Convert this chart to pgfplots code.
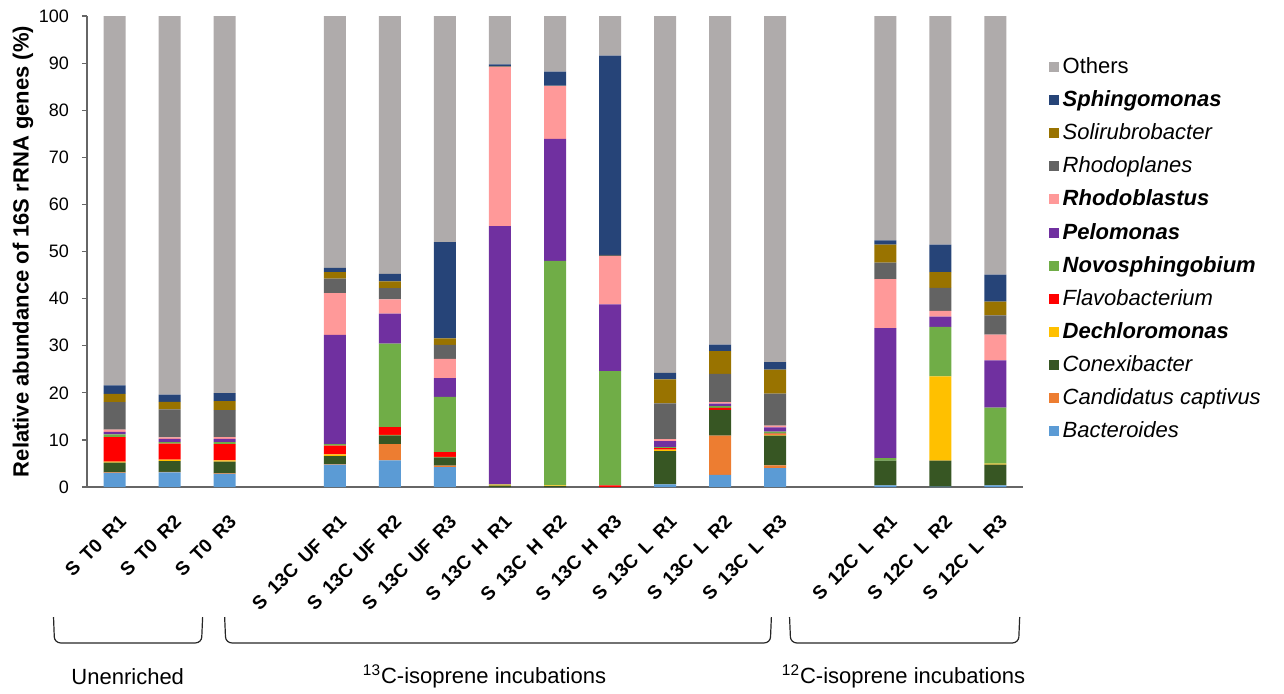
\documentclass[border=0pt]{standalone}
\usepackage{fontspec}
\setmainfont{Liberation Sans}
\newfontfamily\tickfont{Liberation Sans}[WordSpace=1.7]
\usepackage{pgfplots}
\usepackage{pgfplotstable}
\pgfplotsset{compat=1.18}
\definecolor{cOth}{HTML}{AFABAB}
\definecolor{cSph}{HTML}{264478}
\definecolor{cSol}{HTML}{997300}
\definecolor{cRpl}{HTML}{636363}
\definecolor{cRbl}{HTML}{FF9999}
\definecolor{cPel}{HTML}{7030A0}
\definecolor{cNov}{HTML}{70AD47}
\definecolor{cFla}{HTML}{FF0000}
\definecolor{cDec}{HTML}{FFC000}
\definecolor{cCon}{HTML}{375623}
\definecolor{cCan}{HTML}{ED7D31}
\definecolor{cBac}{HTML}{5B9BD5}
\pgfplotstableread{
x  Bac  Can  Con  Dec  Fla  Nov   Pel   Rbl   Rpl  Sol  Sph   Oth
0  3.00 0.10 2.10 0.20 5.20 0.60  0.50  0.50  5.80 1.80 1.80  78.40
1  3.10 0.10 2.30 0.30 3.40 0.35  0.65  0.35  5.95 1.60 1.50  80.40
2  2.80 0.10 2.50 0.25 3.45 0.45  0.65  0.40  5.70 1.95 1.70  80.05
4  4.74 0.10 1.74 0.35 1.84 0.35  23.20 8.85  3.05 1.40 0.90  53.48
5  5.66 3.47 1.84 0.10 1.67 17.70 6.40  3.00  2.40 1.40 1.60  54.76
6  4.25 0.28 1.77 0.10 1.03 11.70 4.00  4.10  2.95 1.40 20.40 48.02
7  0.00 0.00 0.30 0.20 0.00 0.05  54.85 33.80 0.10 0.05 0.40  10.25
8  0.00 0.00 0.20 0.15 0.00 47.65 25.90 11.20 0.10 0.00 3.00  11.80
9  0.00 0.00 0.00 0.00 0.35 24.25 14.20 10.20 0.30 0.00 42.30 8.40
10 0.57 0.00 7.07 0.28 0.35 0.20  1.27  0.43  7.60 5.10 1.35  75.78
11 2.60 8.30 5.50 0.00 0.43 0.35  0.50  0.35  6.00 4.80 1.40  69.77
12 4.03 0.57 6.30 0.20 0.23 0.42  0.92  0.35  6.80 5.10 1.60  73.48
14 0.35 0.00 5.25 0.00 0.00 0.55  27.60 10.40 3.50 3.80 0.90  47.65
15 0.10 0.00 5.50 17.90 0.00 10.50 2.20 1.20  4.90 3.30 5.85  48.55
16 0.35 0.00 4.40 0.20 0.00 11.90 10.05 5.45  4.10 2.90 5.75  54.90
}\data
\begin{document}
\begin{tikzpicture}
\useasboundingbox (0,0) rectangle (642pt,-346.5pt);
\begin{axis}[
  at={(43.5pt,-243.5pt)}, anchor=south west,
  scale only axis, width=468pt, height=235.5pt,
  ybar stacked, bar width=11pt,
  ymin=0, ymax=100, xmin=-0.5, xmax=16.5,
  clip=false,
  axis x line*=bottom, axis y line*=left,
  axis line style={-, draw=black!60, line width=0.6pt},
  ytick={0,10,...,100},
  tick align=outside,
  major tick length=2.5pt,
  ytick style={draw=black!60, line width=0.6pt},
  xtick style={draw=none},
  /pgf/number format/assume math mode=true,
  yticklabel style={font=\fontsize{9}{10}\selectfont, xshift=-3pt},
  xtick={0,1,2,4,5,6,7,8,9,10,11,12,14,15,16},
  xticklabels={S T0 R1,S T0 R2,S T0 R3,S 13C UF R1,S 13C UF R2,S 13C UF R3,S 13C H R1,S 13C H R2,S 13C H R3,S 13C L R1,S 13C L R2,S 13C L R3,S 12C L R1,S 12C L R2,S 12C L R3},
  xticklabel style={font=\tickfont\bfseries\fontsize{9.5}{11}\selectfont, xshift=4.25pt, yshift=-13.25pt, rotate=45, anchor=east, inner sep=0pt},
  ylabel={\textbf{Relative abundance of 16S rRNA genes (\%)}},
  ylabel style={font=\fontsize{11}{12}\selectfont, at={(axis description cs:-0.0684,0.5)}, anchor=center},
  legend image code/.code={\fill[#1] (0pt,-2.5pt) rectangle (5pt,2.5pt);},
  reverse legend,
  legend cell align=left,
  legend style={draw=none, fill=none, at={(axis description cs:1.027,0.505)}, anchor=west,
    font=\fontsize{11}{12}\selectfont, row sep=3.1pt, inner sep=0pt},
]
\addplot[fill=cBac, draw=none] table[x=x,y=Bac]{\data};
\addplot[fill=cCan, draw=none] table[x=x,y=Can]{\data};
\addplot[fill=cCon, draw=none] table[x=x,y=Con]{\data};
\addplot[fill=cDec, draw=none] table[x=x,y=Dec]{\data};
\addplot[fill=cFla, draw=none] table[x=x,y=Fla]{\data};
\addplot[fill=cNov, draw=none] table[x=x,y=Nov]{\data};
\addplot[fill=cPel, draw=none] table[x=x,y=Pel]{\data};
\addplot[fill=cRbl, draw=none] table[x=x,y=Rbl]{\data};
\addplot[fill=cRpl, draw=none] table[x=x,y=Rpl]{\data};
\addplot[fill=cSol, draw=none] table[x=x,y=Sol]{\data};
\addplot[fill=cSph, draw=none] table[x=x,y=Sph]{\data};
\addplot[fill=cOth, draw=none] table[x=x,y=Oth]{\data};
\legend{\textit{Bacteroides},\textit{Candidatus captivus},\textit{Conexibacter},\textbf{\textit{Dechloromonas}},\textit{Flavobacterium},\textbf{\textit{Novosphingobium}},\textbf{\textit{Pelomonas}},\textbf{\textit{Rhodoblastus}},\textit{Rhodoplanes},\textit{Solirubrobacter},\textbf{\textit{Sphingomonas}},Others}
% group brackets
\draw[black!85, line width=0.6pt, rounded corners=3pt] (axis cs:-1.108,-27.6) -- (axis cs:-1.09,-33.1) -- (axis cs:1.58,-33.1) -- (axis cs:1.6,-27.6);
\draw[black!85, line width=0.6pt, rounded corners=3pt] (axis cs:2.0,-27.6) -- (axis cs:2.02,-33.1) -- (axis cs:11.91,-33.1) -- (axis cs:11.93,-27.6);
\draw[black!85, line width=0.6pt, rounded corners=3pt] (axis cs:12.26,-27.6) -- (axis cs:12.28,-33.1) -- (axis cs:16.42,-33.1) -- (axis cs:16.44,-27.6);
\node[font=\fontsize{11}{12}\selectfont] at (axis cs:0.24,-40.3) {Unenriched};
\node[font=\fontsize{11}{12}\selectfont] at (axis cs:6.72,-40.3) {\textsuperscript{13}C-isoprene incubations};
\node[font=\fontsize{11}{12}\selectfont] at (axis cs:14.33,-40.3) {\textsuperscript{12}C-isoprene incubations};
\end{axis}
\end{tikzpicture}
\end{document}
